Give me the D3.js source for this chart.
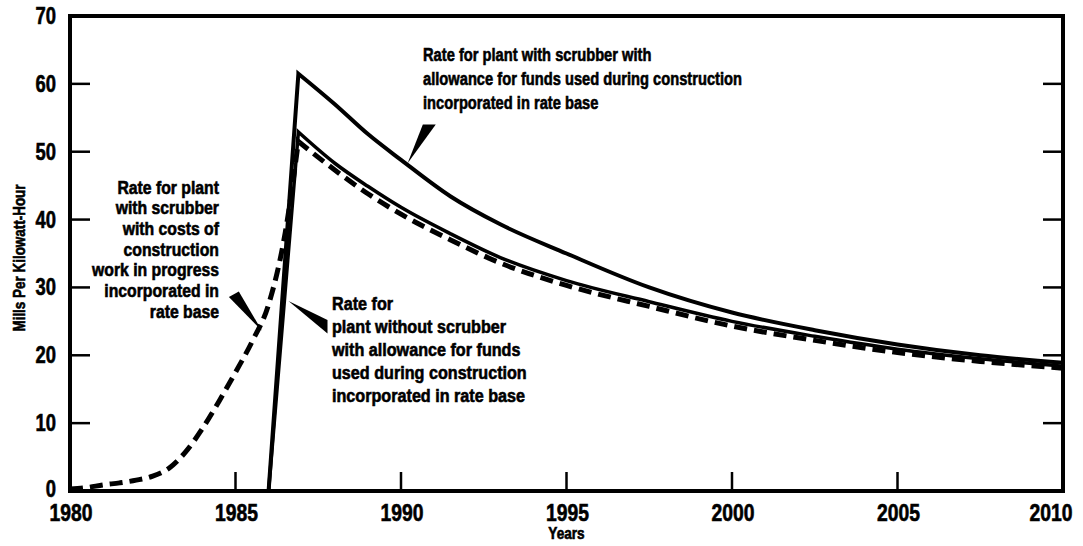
<!DOCTYPE html>
<html><head><meta charset="utf-8">
<script src="https://cdn.jsdelivr.net/npm/d3@7"></script>
<style>
html,body{margin:0;padding:0;background:#fff;}
text{font-family:"Liberation Sans","Arial",sans-serif;font-weight:bold;fill:#000;stroke:#000;stroke-width:0.6px;}
</style></head>
<body><svg id="c" width="1083" height="546"></svg>
<script>
// ---- data ----
const xTicks = [1980, 1985, 1990, 1995, 2000, 2005, 2010];
const yTicks = [0, 10, 20, 30, 40, 50, 60, 70];

const scrubberAfudcYears = [1980, 1986, 1986.9, 1988, 1989, 1990, 1991.5, 1993, 1995, 1997.5, 2000, 2002.5, 2005, 2007.5, 2010];
const scrubberAfudcVals  = [0, 0, 61.5, 57, 52.6, 48.8, 43.4, 39.3, 35, 30, 26.3, 23.7, 21.6, 20, 18.9];

const noScrubberYears = [1980, 1986, 1986.9, 1988, 1989, 1990, 1991.5, 1993, 1995, 1997.5, 2000, 2002.5, 2005, 2007.5, 2010];
const noScrubberVals  = [0, 0, 52.9, 48.3, 44.9, 41.8, 37.9, 34.4, 31, 27.9, 25, 22.8, 20.9, 19.5, 18.4];

const cwipYears = [1980, 1980.5, 1981, 1981.5, 1982, 1982.5, 1983, 1983.5, 1984, 1984.5, 1985, 1985.5, 1986, 1986.5, 1986.9, 1988, 1989, 1990, 1991.5, 1993, 1995, 1997.5, 2000, 2002.5, 2005, 2007.5, 2010];
const cwipVals  = [0.3, 0.5, 0.9, 1.2, 1.6, 2.2, 3.4, 5.8, 9.2, 13.2, 17.5, 22, 27.5, 38, 51.5, 47.3, 43.8, 40.8, 37, 33.6, 30.3, 27.2, 24.3, 22.2, 20.4, 19.1, 18.1];

const labelScrubberAfudc = ["Rate for plant with scrubber with", "allowance for funds used during construction", "incorporated in rate base"];
const labelCwip = ["Rate for plant", "with scrubber", "with costs of", "construction", "work in progress", "incorporated in", "rate base"];
const labelNoScrubber = ["Rate for", "plant without scrubber", "with allowance for funds", "used during construction", "incorporated in rate base"];

// ---- chart ----
const svg = d3.select("#c");
const x = d3.scaleLinear().domain([1980, 2010]).range([70, 1063]);
const y = d3.scaleLinear().domain([0, 70]).range([491, 16]);

// horizontally condense text (keeps it real text)
function condense(sel, factor) {
  sel.each(function () {
    const len = this.getComputedTextLength();
    d3.select(this).attr("textLength", len * factor).attr("lengthAdjust", "spacingAndGlyphs");
  });
}

const zip = (xs, vs) => xs.map((d, i) => ({x: d, y: vs[i]}));
function pathStr(pts, peakIdx, curveRise) {
  const rise = d3.line().x(d => x(d.x)).y(d => y(d.y)).curve(curveRise)(pts.slice(0, peakIdx + 1));
  const fall = d3.line().x(d => x(d.x)).y(d => y(d.y)).curve(d3.curveMonotoneX)(pts.slice(peakIdx));
  return rise + fall.replace(/^M[^LC]*/, "L" + x(pts[peakIdx].x) + "," + y(pts[peakIdx].y));
}

const g = svg.append("g");
const inner = yTicks.filter(v => v > 0 && v < 70);
g.selectAll(".lt").data(inner).enter().append("line")
  .attr("x1", x(1980)).attr("x2", x(1980) + 20).attr("y1", d => y(d)).attr("y2", d => y(d))
  .attr("stroke", "#000").attr("stroke-width", 2.5);
g.selectAll(".rt").data(inner).enter().append("line")
  .attr("x1", x(2010)).attr("x2", x(2010) - 20).attr("y1", d => y(d)).attr("y2", d => y(d))
  .attr("stroke", "#000").attr("stroke-width", 2.5);
g.selectAll(".bt").data(xTicks.filter(v => v > 1980 && v < 2010)).enter().append("line")
  .attr("x1", d => x(d)).attr("x2", d => x(d)).attr("y1", y(0)).attr("y2", y(0) - 19)
  .attr("stroke", "#000").attr("stroke-width", 2.5);
g.append("rect").attr("x", x(1980)).attr("y", y(70)).attr("width", x(2010) - x(1980)).attr("height", y(0) - y(70))
  .attr("fill", "none").attr("stroke", "#000").attr("stroke-width", 4);

// tick labels
const yl = g.selectAll(".yl").data(yTicks).enter().append("text")
  .attr("x", 56).attr("y", d => y(d) + 8 - (d === 0 ? 2 : 0)).attr("text-anchor", "end").attr("font-size", 23).text(d => d);
condense(yl, 0.8);
const xl = g.selectAll(".xl").data(xTicks).enter().append("text")
  .attr("x", d => x(d) + (d === 2010 ? -12 : 1)).attr("y", 521).attr("text-anchor", "middle").attr("font-size", 23).text(d => d);
condense(xl, 0.84);
condense(g.append("text").attr("x", x(1995)).attr("y", 539).attr("text-anchor", "middle").attr("font-size", 16).text("Years"), 0.85);
condense(g.append("text").attr("transform", "translate(25,258) rotate(-90)").attr("text-anchor", "middle").attr("font-size", 16)
  .text("Mills Per Kilowatt-Hour"), 0.84);

// series
const cwip = zip(cwipYears, cwipVals);
svg.append("path").attr("d", pathStr(cwip, cwipYears.indexOf(1986.9), d3.curveMonotoneX))
  .attr("fill", "none").attr("stroke", "#000").attr("stroke-width", 5).attr("stroke-dasharray", "13,7");
const ns = zip(noScrubberYears, noScrubberVals);
svg.append("path").attr("d", pathStr(ns, 2, d3.curveLinear))
  .attr("fill", "none").attr("stroke", "#000").attr("stroke-width", 3.5).attr("stroke-linejoin", "miter");
const sa = zip(scrubberAfudcYears, scrubberAfudcVals);
svg.append("path").attr("d", pathStr(sa, 2, d3.curveLinear))
  .attr("fill", "none").attr("stroke", "#000").attr("stroke-width", 4).attr("stroke-linejoin", "miter");

// labels
function block(lines, px, py, lh, anchor, refIdx, refWidth) {
  const t = svg.append("text").attr("font-size", 18).attr("text-anchor", anchor);
  const spans = lines.map((s, i) => t.append("tspan").attr("x", px).attr("y", py + i * lh).text(s));
  const f = refWidth / spans[refIdx].node().getComputedTextLength();
  spans.forEach(s => condense(s, f));
}
block(labelScrubberAfudc, 423, 61, 24, "start", 1, 319);
block(labelCwip, 219, 193.5, 20.7, "end", 4, 127);
block(labelNoScrubber, 332, 309.5, 23, "start", 4, 193);

// pointer wedges (year/value coordinates)
const wedge = pts => "M" + pts.map(p => x(p[0]) + "," + y(p[1])).join("L") + "Z";
const ptrScrubberAfudc = [[1990.66, 54.0], [1991.05, 54.0], [1990.2, 48.3]];
const ptrNoScrubber = [[1986.6, 28.0], [1987.78, 25.2], [1987.78, 23.2]];
const ptrCwip = [[1984.8, 28.6], [1985.1, 29.4], [1985.8, 23.6]];
[ptrScrubberAfudc, ptrNoScrubber, ptrCwip].forEach(p => svg.append("path").attr("d", wedge(p)).attr("fill", "#000"));
</script></body></html>
